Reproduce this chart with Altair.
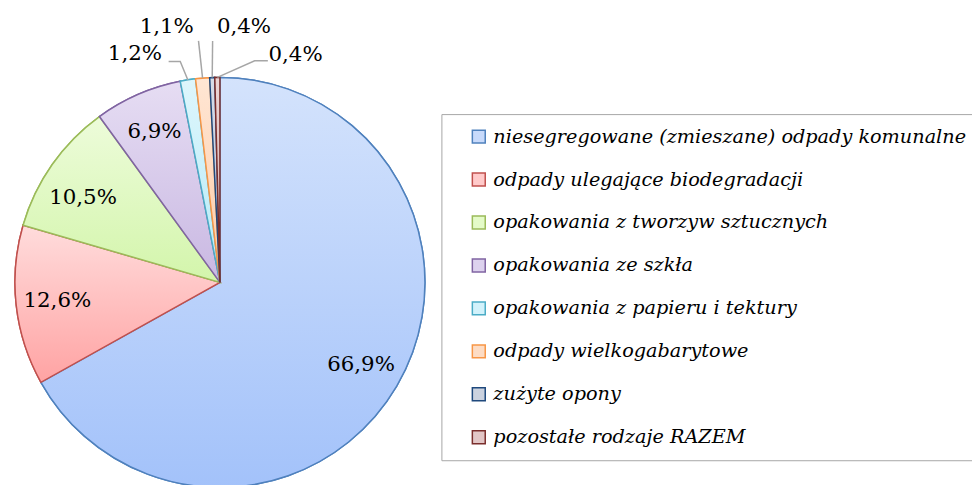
import math
import altair as alt
import pandas as pd

# ---------------- data ----------------
categories = [
    "niesegregowane (zmieszane) odpady komunalne",
    "odpady ulegające biodegradacji",
    "opakowania z tworzyw sztucznych",
    "opakowania ze szkła",
    "opakowania z papieru i tektury",
    "odpady wielkogabarytowe",
    "zużyte opony",
    "pozostałe rodzaje RAZEM",
]
values = [66.9, 12.6, 10.5, 6.9, 1.2, 1.1, 0.4, 0.4]
labels = ["66,9%", "12,6%", "10,5%", "6,9%", "1,2%", "1,1%", "0,4%", "0,4%"]

# ---------------- styles ----------------
stroke_colors = ["#4F81BD", "#C0504D", "#9BBB59", "#8064A2",
                 "#4BACC6", "#F79646", "#1F497D", "#7A2E2C"]
fill_top = ["#d4e3fc", "#ffdcdc", "#edfcda", "#e6ddf3",
            "#def6fc", "#ffe6d4", "#d8dde8", "#ecd6d6"]
fill_bottom = ["#a3c2fa", "#ffa3a3", "#d3f5ab", "#c9b8e2",
               "#b5eaf7", "#fdcba6", "#b5c1d6", "#d2aaaa"]
legend_fill = ["#c8dafb", "#ffcaca", "#e4fbc8", "#ddd2ee",
               "#d2f2fb", "#fddcc4", "#cbd2df", "#e2c6c6"]

# ---------------- layout ----------------
CX, CY, R = 213.7, 274.7, 206.7
INNER_R = 165
# inside labels: nudge (dx, dy); outside labels: offset from slice edge point
label_offsets = [(0, 0), (0, 0), (-3, 10), (0, 0),
                 (-53.4, -26.5), (-36.1, -51.8), (32.1, -51.2), (78.9, -23.0)]
label_outside = [False, False, False, False, True, True, True, True]
leader_paths = [None, None, None, None,
                [(0, 0), (-7.7, -18.5), (-19.4, -18.5)],
                [(0, 0), (-4.1, -37.5)],
                [(0, 0), (0.4, -36.9)],
                [(0, 0), (37.6, -16.7), (50.9, -16.7)]]

total = sum(values)
rows = []
lead = []
acc = 0.0
for i, (c, v, lab) in enumerate(zip(categories, values, labels)):
    start, end = acc, acc + v
    acc = end
    mid = (start + end) / 2 / total * 2 * math.pi
    ex, ey = CX + R * math.sin(mid), CY - R * math.cos(mid)
    dx, dy = label_offsets[i]
    if label_outside[i]:
        lx, ly = ex + dx, ey + dy
        for k, (px, py) in enumerate(leader_paths[i]):
            lead.append({"cat": c, "k": k, "x": ex + px, "y": ey + py})
    else:
        lx = CX + INNER_R * math.sin(mid) + dx
        ly = CY - INNER_R * math.cos(mid) + dy
    rows.append({"cat": c, "idx": i, "value": v, "start": start, "end": end,
                 "label": lab, "lx": lx, "ly": ly})

df = pd.DataFrame(rows)
lead_df = pd.DataFrame(lead)

base = alt.Chart(df)
theta = alt.Theta("start:Q", scale=alt.Scale(domain=[0, total]))

leg = alt.Legend(
    orient="none", legendX=437, legendY=105, title=None,
    symbolType="square", symbolSize=169, symbolStrokeWidth=1.5,
    symbolOffset=15, labelFont="DejaVu Serif", labelFontStyle="italic",
    labelFontSize=19.4, labelColor="#000000", labelOffset=5, labelLimit=700,
    rowPadding=22.3, padding=13, strokeColor="#a6a6a6",
)

legend_layer = base.mark_arc(radius=R, strokeWidth=1.5).encode(
    theta=theta, theta2="end:Q",
    x=alt.value(CX), y=alt.value(CY),
    fill=alt.Fill("cat:N", sort=categories,
                  scale=alt.Scale(domain=categories, range=legend_fill), legend=leg),
    stroke=alt.Stroke("cat:N", sort=categories,
                      scale=alt.Scale(domain=categories, range=stroke_colors), legend=leg),
)

layers = [legend_layer]
for i, c in enumerate(categories):
    grad = alt.LinearGradient(
        gradient="linear",
        stops=[alt.GradientStop(color=fill_top[i], offset=0),
               alt.GradientStop(color=fill_bottom[i], offset=1)],
        x1=0, x2=0, y1=0, y2=1,
    )
    layers.append(
        base.transform_filter(alt.datum.idx == i)
        .mark_arc(radius=R, fill=grad, stroke=stroke_colors[i], strokeWidth=1.5)
        .encode(theta=theta, theta2="end:Q", x=alt.value(CX), y=alt.value(CY))
    )

leaders = alt.Chart(lead_df).mark_line(color="#a6a6a6", strokeWidth=1.5).encode(
    x=alt.X("x:Q", scale=None, axis=None),
    y=alt.Y("y:Q", scale=None, axis=None),
    detail="cat:N",
    order="k:O",
)

texts = base.mark_text(font="DejaVu Serif", fontSize=21.5, align="center",
                       baseline="middle", color="#000000").encode(
    x=alt.X("lx:Q", scale=None, axis=None),
    y=alt.Y("ly:Q", scale=None, axis=None),
    text="label:N",
)

chart = alt.layer(*layers, leaders, texts).properties(
    width=972, height=477, padding=0,
    autosize=alt.AutoSizeParams(type="none"),
    background="white",
).configure_view(stroke=None)

chart.save("out.html", embed_options={"renderer": "svg", "actions": False})
